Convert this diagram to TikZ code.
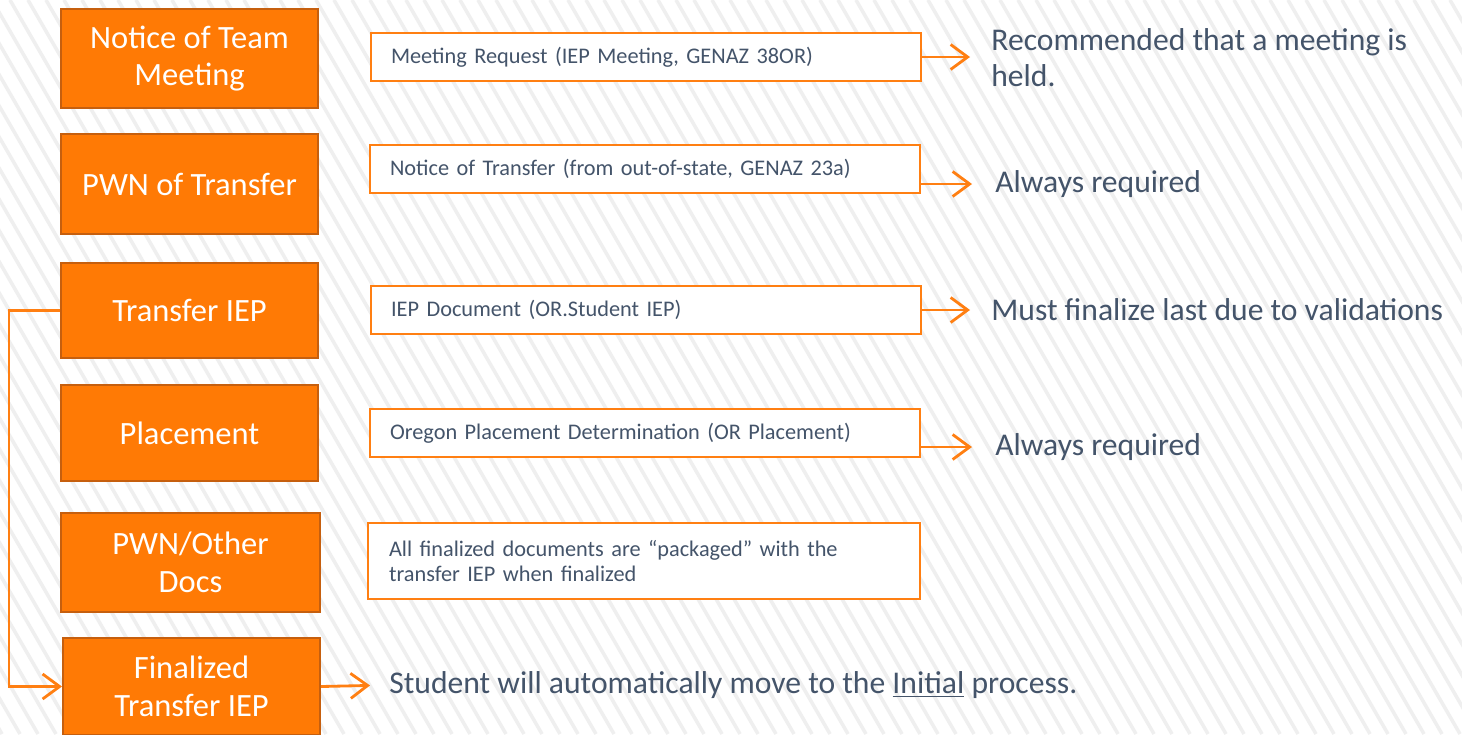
\documentclass[tikz,border=0pt]{standalone}
\usepackage{fontspec}
\setmainfont{Carlito}
\usetikzlibrary{arrows.meta}

\definecolor{boxorange}{HTML}{FF7A05}
\definecolor{edgeorange}{HTML}{C65F0E}
\definecolor{lineorange}{HTML}{FF7F12}
\definecolor{slatetext}{HTML}{44546A}
\definecolor{stripegray}{HTML}{EFEFEF}

\tikzset{
    stepbox/.style={draw=edgeorange, line width=1.2pt, fill=boxorange, text=white, minimum width=5.14cm, align=center, font=\fontsize{18.5}{21.5}\selectfont},
    docbox/.style={draw=lineorange, line width=1.5pt, fill=white, text=slatetext, minimum width=11.0cm, minimum height=0.96cm, text width=10.2cm, align=left, font=\fontsize{12.7}{14.7}\selectfont},
    note/.style={anchor=west, inner sep=0pt, text=slatetext, align=left, font=\fontsize{18}{20.5}\selectfont},
    flow/.style={draw=lineorange, line width=1.6pt, -{Straight Barb[length=3.4mm, width=5mm, line width=1.6pt]}}
}

\begin{document}
\begin{tikzpicture}[x=0.02cm, y=-0.02cm]

    % Background
    \useasboundingbox (0,0) rectangle (1462,734);
    \fill[white] (0,0) rectangle (1462,734);
    \begin{scope}
        \clip (0,0) rectangle (1462,734);
        \foreach \s in {-440,-422,...,1480}
            \draw[stripegray, line width=2pt] (\s,0) -- ++(424,734);
    \end{scope}

    % Steps
    \node[stepbox, minimum height=1.98cm] (Notice) at (189.5, 58.5) {Notice of Team\\Meeting};
    \node[stepbox, minimum height=2.0cm] (PWN Transfer) at (189.5, 184) {PWN of Transfer};
    \node[stepbox, minimum height=1.9cm] (Transfer IEP) at (189.5, 310.5) {Transfer IEP};
    \node[stepbox, minimum height=1.92cm] (Placement) at (189.5, 433) {Placement};
    \node[stepbox, minimum height=1.98cm, minimum width=5.18cm] (Other Docs) at (190.5, 562.5) {PWN/Other\\Docs};
    \node[stepbox, minimum height=1.94cm] (Finalized) at (191.5, 686.5) {Finalized\\Transfer IEP};

    % Documents
    \node[docbox] (Meeting Request) at (646, 57) {Meeting Request (IEP Meeting, GENAZ 38OR)};
    \node[docbox, minimum width=11.0cm] (Notice Transfer) at (645, 169) {Notice of Transfer (from out-of-state, GENAZ 23a)};
    \node[docbox] (IEP Document) at (646, 310) {IEP Document (OR.Student IEP)};
    \node[docbox] (Placement Doc) at (645, 433) {Oregon Placement Determination (OR Placement)};
    \node[docbox, minimum height=1.52cm, minimum width=11.04cm] (Packaged) at (644, 561) {All finalized documents are “packaged” with the\\transfer IEP when finalized};

    % Notes
    \node[note] (Recommended) at (991, 58) {Recommended that a meeting is\\held.};
    \node[note] (Required A) at (995, 184) {Always required};
    \node[note] (Finalize Last) at (991, 310) {Must finalize last due to validations};
    \node[note] (Required B) at (995, 447) {Always required};
    \node[note] (Initial) at (389, 685) {Student will automatically move to the \underline{Initial} process.};

    % Connections
    \draw[flow, shorten >=21*0.02cm] (Meeting Request.east) -- (Recommended.west |- Meeting Request.east);
    \draw[flow, shorten >=23*0.02cm] (Required A.west -| Notice Transfer.east) -- (Required A.west);
    \draw[flow, shorten >=21*0.02cm] (IEP Document.east) -- (Finalize Last.west);
    \draw[flow, shorten >=23*0.02cm] (Required B.west -| Placement Doc.east) -- (Required B.west);
    \draw[flow] (Transfer IEP.west) -- ++(-51,0) |- (Finalized.west);
    \draw[flow, shorten >=19*0.02cm] (Finalized.east) -- (Initial.west);

\end{tikzpicture}
\end{document}
